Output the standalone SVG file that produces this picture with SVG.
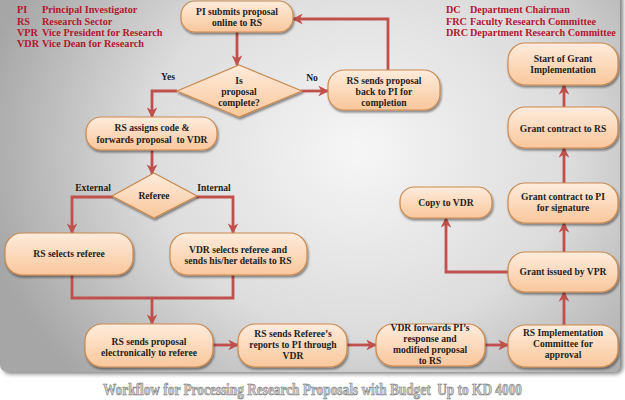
<svg xmlns="http://www.w3.org/2000/svg" width="625" height="400" viewBox="0 0 625 400">
<defs>
  <radialGradient id="bg" cx="0.58" cy="0.42" r="0.62" gradientTransform="translate(0.58 0.42) scale(1 1.4) translate(-0.58 -0.42)">
    <stop offset="0" stop-color="#f6f6f6"/>
    <stop offset="0.55" stop-color="#dcdcdc"/>
    <stop offset="1" stop-color="#a6a6a6"/>
  </radialGradient>
  <linearGradient id="nodefill" x1="0" y1="0" x2="0" y2="1">
    <stop offset="0" stop-color="#feecdc"/>
    <stop offset="1" stop-color="#f9c79c"/>
  </linearGradient>
  <filter id="shadow" x="-10%" y="-20%" width="125%" height="150%">
    <feGaussianBlur in="SourceAlpha" stdDeviation="1.2"/>
    <feOffset dx="1" dy="2" result="o"/>
    <feComponentTransfer><feFuncA type="linear" slope="0.45"/></feComponentTransfer>
    <feMerge><feMergeNode/><feMergeNode in="SourceGraphic"/></feMerge>
  </filter>
  <filter id="panelshadow" x="-5%" y="-5%" width="110%" height="110%">
    <feGaussianBlur in="SourceAlpha" stdDeviation="2"/>
    <feOffset dx="3" dy="2"/>
    <feComponentTransfer><feFuncA type="linear" slope="0.5"/></feComponentTransfer>
    <feMerge><feMergeNode/><feMergeNode in="SourceGraphic"/></feMerge>
  </filter>
  <marker id="arr" viewBox="0 0 10 10" refX="9" refY="5" markerWidth="3.9" markerHeight="3.9" orient="auto" markerUnits="strokeWidth">
    <path d="M0,0 L10,5 L0,10 L3,5 Z" fill="#c0504d"/>
  </marker>
  <style>
    .node rect, .node polygon { fill: url(#nodefill); stroke: #c98a52; stroke-width: 1.2; filter: url(#shadow); }
    .node text { font-family: "Liberation Serif", "Times New Roman", serif; font-weight: bold; font-size: 9.6px; fill: #1f1f1f; text-anchor: middle; }
    .conn path { fill: none; stroke: #c0504d; stroke-width: 2.8; stroke-linejoin: miter; }
    .conn path.a { marker-end: url(#arr); }
    .lbl { font-family: "Liberation Serif", "Times New Roman", serif; font-weight: bold; font-size: 9.6px; fill: #1f1f1f; text-anchor: middle; }
    .leg { font-family: "Liberation Serif", "Times New Roman", serif; font-weight: bold; font-size: 10.2px; fill: #b3182e; }
    .title { font-family: "Liberation Serif", "Times New Roman", serif; font-weight: bold; font-size: 16px; fill: #cfcfcf; stroke: #7a7a7a; stroke-width: 0.6; }
  </style>
</defs>

<rect x="0" y="0" width="625" height="400" fill="#ffffff"/>
<rect x="0" y="-10" width="620" height="382" rx="7" fill="url(#bg)" filter="url(#panelshadow)"/>

<g id="legend-left">
  <text class="leg" x="17" y="13">PI</text><text class="leg" x="42" y="13">Principal Investigator</text>
  <text class="leg" x="17" y="25">RS</text><text class="leg" x="42" y="25">Research Sector</text>
  <text class="leg" x="17" y="36">VPR</text><text class="leg" x="42" y="36">Vice President for Research</text>
  <text class="leg" x="17" y="47">VDR</text><text class="leg" x="42" y="47">Vice Dean for Research</text>
</g>
<g id="legend-right">
  <text class="leg" x="446" y="13">DC</text><text class="leg" x="470" y="13">Department Chairman</text>
  <text class="leg" x="446" y="25">FRC</text><text class="leg" x="470" y="25">Faculty Research Committee</text>
  <text class="leg" x="446" y="36">DRC</text><text class="leg" x="470" y="36">Department Research Committee</text>
</g>

<g id="connectors" class="conn">
  <path class="a" d="M237,32 L237,65"/>
  <path class="a" d="M301,91 L328,91"/>
  <path class="a" d="M388,70 L388,19 L293,19"/>
  <path class="a" d="M177,91 L152,91 L152,117"/>
  <path class="a" d="M152,150 L152,174"/>
  <path class="a" d="M113,197 L72,197 L72,233"/>
  <path class="a" d="M196,197 L233,197 L233,233"/>
  <path d="M72,275 L72,298 L233,298 L233,275"/>
  <path class="a" d="M152,298 L152,324"/>
  <path class="a" d="M213,345 L238,345"/>
  <path class="a" d="M347,345 L376,345"/>
  <path class="a" d="M485,345 L508,345"/>
  <path class="a" d="M564,325 L564,292"/>
  <path class="a" d="M508,272 L446,272 L446,218"/>
  <path class="a" d="M564,252 L564,223"/>
  <path class="a" d="M564,183 L564,148"/>
  <path class="a" d="M564,107 L564,85"/>
</g>

<g id="labels">
  <text class="lbl" x="168" y="80">Yes</text>
  <text class="lbl" x="312" y="81">No</text>
  <text class="lbl" x="93" y="191">External</text>
  <text class="lbl" x="214" y="191">Internal</text>
</g>

<g id="n-submit" class="node">
  <rect x="181" y="1" width="112" height="31" rx="14"/>
  <text x="237" y="15">PI submits proposal</text>
  <text x="237" y="26">online to RS</text>
</g>
<g id="n-complete" class="node">
  <polygon points="239,65 302,91 239,117 177,91"/>
  <text x="239" y="84">Is</text>
  <text x="239" y="95">proposal</text>
  <text x="239" y="106">complete?</text>
</g>
<g id="n-back" class="node">
  <rect x="328" y="70" width="112" height="40" rx="16"/>
  <text x="384" y="84">RS sends proposal</text>
  <text x="384" y="95">back to PI for</text>
  <text x="384" y="106">completion</text>
</g>
<g id="n-assign" class="node">
  <rect x="86" y="117" width="131" height="33" rx="15"/>
  <text x="152" y="131">RS assigns code &amp;</text>
  <text x="152" y="143" xml:space="preserve">forwards proposal  to VDR</text>
</g>
<g id="n-referee" class="node">
  <polygon points="154,173 197,196 154,218 112,196"/>
  <text x="154" y="199">Referee</text>
</g>
<g id="n-rs-select" class="node">
  <rect x="5" y="233" width="128" height="42" rx="17"/>
  <text x="69" y="257">RS selects referee</text>
</g>
<g id="n-vdr-select" class="node">
  <rect x="170" y="233" width="137" height="42" rx="17"/>
  <text x="238" y="253">VDR selects referee and</text>
  <text x="238" y="264">sends his/her details to RS</text>
</g>
<g id="n-send-elec" class="node">
  <rect x="85" y="324" width="128" height="43" rx="17"/>
  <text x="149" y="345">RS sends proposal</text>
  <text x="149" y="356">electronically to referee</text>
</g>
<g id="n-reports" class="node">
  <rect x="238" y="324" width="109" height="43" rx="17"/>
  <text x="293" y="337">RS sends Referee’s</text>
  <text x="293" y="348">reports to PI through</text>
  <text x="293" y="359">VDR</text>
</g>
<g id="n-vdr-forward" class="node">
  <rect x="376" y="324" width="109" height="42" rx="17"/>
  <text x="430" y="331">VDR forwards PI’s</text>
  <text x="430" y="342">response and</text>
  <text x="430" y="353">modified proposal</text>
  <text x="430" y="364">to RS</text>
</g>
<g id="n-impl-committee" class="node">
  <rect x="508" y="325" width="110" height="42" rx="17"/>
  <text x="563" y="336">RS Implementation</text>
  <text x="563" y="347">Committee for</text>
  <text x="563" y="358">approval</text>
</g>
<g id="n-grant-issued" class="node">
  <rect x="508" y="252" width="110" height="40" rx="17"/>
  <text x="563" y="275">Grant issued by VPR</text>
</g>
<g id="n-copy-vdr" class="node">
  <rect x="400" y="187" width="92" height="31" rx="14"/>
  <text x="446" y="206">Copy to VDR</text>
</g>
<g id="n-contract-pi" class="node">
  <rect x="508" y="183" width="110" height="40" rx="17"/>
  <text x="563" y="200">Grant contract to PI</text>
  <text x="563" y="211">for signature</text>
</g>
<g id="n-contract-rs" class="node">
  <rect x="508" y="107" width="110" height="41" rx="17"/>
  <text x="563" y="132">Grant contract to RS</text>
</g>
<g id="n-start" class="node">
  <rect x="508" y="43" width="110" height="42" rx="17"/>
  <text x="563" y="62">Start of Grant</text>
  <text x="563" y="73">Implementation</text>
</g>

<text class="title" x="103" y="395" textLength="419" lengthAdjust="spacingAndGlyphs" xml:space="preserve">Workflow for Processing Research Proposals with Budget  Up to KD 4000</text>
</svg>
